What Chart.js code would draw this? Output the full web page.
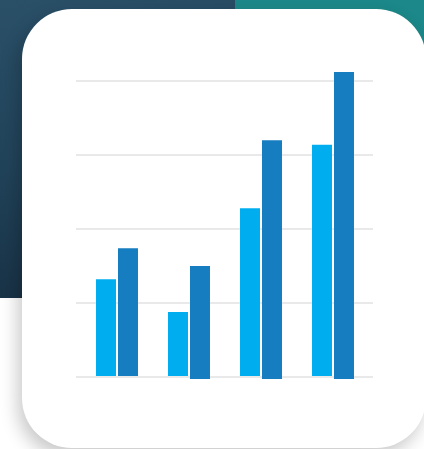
<!DOCTYPE html>
<html>
<head>
<meta charset="utf-8">
<script src="https://cdn.jsdelivr.net/npm/chart.js@4"></script>
<style>
  html, body { margin: 0; padding: 0; }
  body { width: 424px; height: 449px; position: relative; overflow: hidden; background: #ffffff; }
  .bg-dark {
    position: absolute; left: 0; top: 0; width: 235px; height: 298px;
    background: linear-gradient(170deg, #2a5068 0%, #21435a 50%, #172e41 100%);
  }
  .bg-teal {
    position: absolute; left: 235px; top: 0; width: 189px; height: 298px;
    background: #1c8889;
  }
  .card {
    position: absolute; left: 22px; top: 9px; width: 404px; height: 439px;
    background: #ffffff; border-radius: 50px;
    box-shadow: -4px 8px 18px rgba(0, 0, 0, 0.22);
  }
  canvas { position: absolute; left: 0; top: 0; }
</style>
</head>
<body>
<div class="bg-dark"></div>
<div class="bg-teal"></div>
<div class="card"></div>
<canvas id="barChart" width="424" height="449"></canvas>
<script>
// Chart data
const categories = ['Q1', 'Q2', 'Q3', 'Q4'];
const lightValues = [33, 22, 57, 78.5];
const darkValues = [43.5, 37.5, 80, 103];
const darkBase = [0, -0.7, -0.7, -0.7];
const yTicks = [0, 25, 50, 75, 100];

const gridColor = '#e9e9e9';

const chartData = {
    labels: categories,
    datasets: [{
        label: 'Series A',
        data: lightValues,
        backgroundColor: '#00aeef',
        borderWidth: 0,
        clip: false
    }, {
        label: 'Series B',
        data: darkValues.map((v, i) => [darkBase[i], v]), // floating so it dips a bit under the axis
        backgroundColor: '#167dc0',
        borderWidth: 0,
        clip: false
    }]
};

// y axis shared settings, both sides only draw gridline stubs
function yAxis(position, tickLength, onArea) {
    return {
        position: position,
        min: yTicks[0],
        max: yTicks[yTicks.length - 1],
        afterBuildTicks: axis => { axis.ticks = yTicks.map(v => ({ value: v })); },
        ticks: { display: false },
        border: { display: false },
        grid: {
            color: gridColor,
            lineWidth: 2,
            drawOnChartArea: onArea,
            drawTicks: true,
            tickLength: tickLength
        }
    };
}

new Chart(document.getElementById('barChart'), {
    type: 'bar',
    data: chartData,
    options: {
        responsive: false,
        animation: false,
        events: [],
        categoryPercentage: 0.611,
        barPercentage: 0.909,
        layout: { padding: { left: 76, right: 51, top: 81, bottom: 72 } },
        plugins: {
            legend: { display: false },
            tooltip: { enabled: false }
        },
        scales: {
            x: { display: false },
            y: yAxis('left', 5, true),
            y2: yAxis('right', 4, false)
        }
    }
});
</script>
</body>
</html>
